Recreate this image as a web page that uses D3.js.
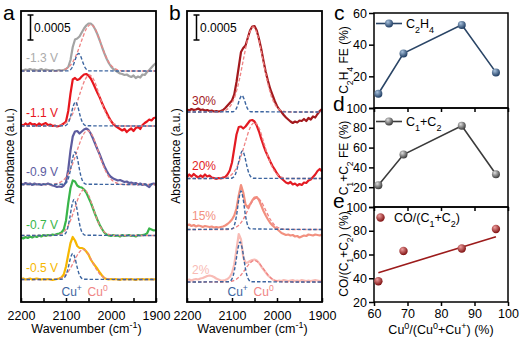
<!DOCTYPE html>
<html><head><meta charset="utf-8">
<script src="https://cdn.jsdelivr.net/npm/d3@7"></script>
<style>body{margin:0;background:#fff}svg text{font-family:"Liberation Sans",Arial,sans-serif}</style>
</head><body>
<svg id="chart" width="521" height="340"></svg>
<script>
// ---------------- DATA ----------------
// spectra sampled from 2200 down to 1900 cm-1, every 5 cm-1 (units of 1e-4 absorbance, relative to own baseline)
const gridStart = 2200, gridStep = 5;
const labelsA = ["-1.3 V", "-1.1 V", "-0.9 V", "-0.7 V", "-0.5 V"];
const offsetsA = [46.2, 35.2, 23.5, 13.3, 4.5];
const specA13 = [0.2,0.1,0.3,0.2,0.4,0.2,0.3,0.1,0.2,0.4,0.1,0.3,0.2,0.1,0.2,0.0,0.1,0.2,0.1,0.2,0.4,0.8,2.2,4.8,6.3,6.5,6.9,7.7,8.5,9.1,9.5,9.5,9.1,8.3,7.3,6.1,4.8,3.6,2.5,1.6,0.9,0.4,0.1,-0.2,-0.5,-0.6,-0.8,-0.7,-1.0,-1.2,-0.9,-1.4,-1.1,-1.3,-0.7,-0.8,-0.2,0.2,0.7,1.2,1.6];
const specA11 = [0.3,0.1,0.5,0.2,0.6,0.3,0.4,0.1,0.5,0.2,0.4,0.6,0.2,0.3,0.0,0.1,-0.1,0.0,0.2,0.5,0.9,3.0,6.5,9.3,9.6,9.2,9.4,9.9,10.3,10.4,10.1,9.5,8.6,7.6,6.6,5.7,4.6,3.6,2.7,1.8,1.0,0.4,0.0,-0.3,-0.6,-0.9,-0.6,-1.2,-0.8,-0.5,-1.0,-0.4,-0.2,-0.6,0.2,0.6,0.9,1.3,1.1,1.6,1.7];
const specA09 = [0.2,0.0,0.3,0.1,0.2,-0.1,0.2,0.0,0.1,-0.1,0.1,0.0,0.2,0.0,-0.2,-0.3,-0.5,-0.4,-0.5,-0.2,0.5,3.0,6.8,9.6,10.6,10.7,10.2,10.6,11.0,11.2,10.9,10.2,9.2,8.1,7.0,6.0,4.8,3.7,2.8,2.0,1.5,1.2,1.0,0.8,0.9,0.7,0.5,0.6,0.3,0.4,0.2,0.3,0.0,0.2,-0.1,0.1,-0.2,-0.5,0.1,0.2,-0.1];
const specA07 = [-0.4,-0.6,-0.3,-0.5,-0.2,-0.4,-0.1,-0.3,0.0,-0.2,0.1,-0.1,0.1,0.0,0.2,0.1,0.3,0.4,0.6,1.2,3.0,6.5,9.5,11.0,10.8,10.0,9.7,9.6,9.2,8.6,7.6,6.6,5.4,4.2,3.1,2.1,1.3,0.6,0.2,0.0,-0.1,0.1,-0.1,0.0,-0.2,0.1,-0.1,0.0,0.1,-0.1,0.0,-0.2,0.1,0.0,0.1,0.2,0.4,1.4,1.2,1.0,1.1];
const specA05 = [0.1,0.2,0.0,0.1,0.2,0.0,0.1,0.2,0.1,0.0,0.1,0.0,0.1,0.0,-0.1,0.0,0.1,0.2,0.4,1.0,2.6,5.0,7.3,8.5,7.8,6.7,6.3,6.3,6.1,5.6,5.0,4.0,3.3,2.7,2.1,1.4,0.8,0.3,0.1,0.0,0.1,0.0,0.1,0.0,-0.1,0.1,0.0,0.1,0.0,0.1,0.0,-0.1,0.1,0.0,0.1,0.0,0.1,0.0,0.1,0.0,0.1];

// Gaussian fit components: [wavenumber, value]
const cuPlusA13 = [[2200,0],[2097,0.03],[2092,0.15],[2087,0.6],[2082,1.6],[2077,2.88],[2072,3.5],[2067,2.88],[2062,1.6],[2057,0.6],[2052,0.15],[2047,0.03],[1900,0]];
const cuPlusA11 = [[2200,0],[2104,0.04],[2099,0.21],[2094,0.83],[2089,2.2],[2084,3.95],[2079,4.8],[2074,3.95],[2069,2.2],[2064,0.83],[2059,0.21],[2054,0.04],[1900,0]];
const cuPlusA09 = [[2200,0],[2105,0.05],[2100,0.29],[2095,1.12],[2090,2.98],[2085,5.35],[2080,6.5],[2075,5.35],[2070,2.98],[2065,1.12],[2060,0.29],[2055,0.05],[1900,0]];
const cuPlusA07 = [[2200,0],[2107,0.05],[2102,0.32],[2097,1.24],[2092,3.3],[2087,5.93],[2082,7.2],[2077,5.93],[2072,3.3],[2067,1.24],[2062,0.32],[2057,0.05],[1900,0]];
const cuPlusA05 = [[2200,0],[2110,0.04],[2105,0.23],[2100,0.89],[2095,2.38],[2090,4.28],[2085,5.2],[2080,4.28],[2075,2.38],[2070,0.89],[2065,0.23],[2060,0.04],[1900,0]];
const cu0A13 = [[2200,0],[2115,0],[2105,0.22],[2095,0.71],[2085,1.79],[2075,3.67],[2065,6.16],[2055,8.39],[2045,9.3],[2035,8.39],[2025,6.16],[2015,3.67],[2005,1.79],[1995,0.71],[1985,0.22],[1975,0],[1900,0]];
const cu0A11 = [[2200,0],[2118,0],[2108,0.24],[2098,0.78],[2088,1.96],[2078,4.03],[2068,6.75],[2058,9.2],[2048,10.2],[2038,9.2],[2028,6.75],[2018,4.03],[2008,1.96],[1998,0.78],[1988,0.24],[1978,0],[1900,0]];
const cu0A09 = [[2200,0],[2132,0],[2122,0.15],[2112,0.48],[2102,1.23],[2092,2.69],[2082,4.95],[2072,7.64],[2062,9.9],[2052,10.8],[2042,9.9],[2032,7.64],[2022,4.95],[2012,2.69],[2002,1.23],[1992,0.48],[1982,0.15],[1972,0],[1900,0]];
const cu0A07 = [[2200,0],[2130,0],[2120,0.1],[2110,0.4],[2100,1.24],[2090,2.99],[2080,5.58],[2070,8.11],[2060,9.2],[2050,8.11],[2040,5.58],[2030,2.99],[2020,1.24],[2010,0.4],[2000,0.1],[1990,0],[1900,0]];
const cu0A05 = [[2200,0],[2132,0],[2122,0.07],[2112,0.26],[2102,0.81],[2092,1.95],[2082,3.64],[2072,5.29],[2062,6.0],[2052,5.29],[2042,3.64],[2032,1.95],[2022,0.81],[2012,0.26],[2002,0.07],[1992,0],[1900,0]];

const labelsB = ["30%", "20%", "15%", "2%"];
const offsetsB = [38.0, 24.7, 14.5, 4.0];
const specB30 = [0.5,0.3,0.6,0.4,0.5,0.7,0.4,0.5,0.3,0.4,0.2,0.3,0.1,0.2,0.1,0.2,0.4,0.8,1.3,1.8,2.3,3.5,6.0,9.0,12.0,12.8,13.3,14.8,16.3,17.1,17.2,16.3,14.6,12.6,10.2,8.0,6.2,4.6,3.4,2.2,1.2,0.5,0.0,-0.6,-1.1,-1.5,-1.9,-2.2,-1.9,-2.1,-1.7,-1.8,-1.4,-1.8,-1.2,-1.5,-0.9,-1.1,-0.4,0.2,0.6];
const specB20 = [0.3,0.8,0.4,0.9,0.5,0.2,0.6,0.3,0.8,0.4,0.6,0.2,0.1,-0.1,0.1,0.0,0.2,0.3,0.8,1.6,3.2,6.0,8.8,10.3,10.4,10.0,10.4,11.0,11.6,11.7,11.4,10.6,9.4,7.9,6.6,5.4,4.4,3.4,2.5,1.8,1.0,0.4,0.0,-0.4,-0.8,-1.0,-0.7,-1.2,-1.0,-1.4,-1.1,-1.3,-0.8,-0.9,-0.4,-0.2,0.3,0.8,1.5,1.9,1.4];
const specB15 = [0.8,1.0,0.7,0.9,0.6,0.8,0.7,0.5,0.7,0.6,0.5,0.6,0.4,0.5,0.4,0.5,0.6,0.8,1.1,1.5,2.0,2.8,4.2,6.8,8.9,7.4,5.0,4.4,5.0,5.8,6.4,6.5,5.9,4.8,3.7,2.8,2.0,1.3,0.8,0.4,0.1,-0.3,-0.7,-0.9,-1.1,-1.0,-1.2,-1.1,-1.4,-1.3,-1.6,-1.4,-1.2,-1.3,-1.0,-1.1,-1.2,-1.0,-1.1,-1.2,-1.0];
const specB02 = [0.4,0.5,0.3,0.5,0.6,0.5,0.7,0.8,1.0,1.2,1.3,1.2,1.0,0.7,0.5,0.3,0.3,0.4,0.6,1.0,1.8,3.5,6.5,9.6,8.5,5.0,3.8,3.9,4.2,4.4,4.5,4.3,3.8,3.1,2.5,1.9,1.3,0.9,0.5,0.3,0.2,0.3,0.2,0.4,0.3,0.2,0.3,0.4,0.2,0.3,0.2,0.4,0.3,0.2,0.3,0.2,0.3,0.4,0.3,0.2,0.3];

const cuPlusB30 = [[2200,0],[2098,0.06],[2093,0.33],[2088,1.19],[2083,2.56],[2078,3.3],[2073,2.56],[2068,1.19],[2063,0.33],[2058,0.06],[1900,0]];
const cuPlusB20 = [[2200,0],[2102,0.04],[2097,0.24],[2092,0.95],[2087,2.52],[2082,4.53],[2077,5.5],[2072,4.53],[2067,2.52],[2062,0.95],[2057,0.24],[2052,0.04],[1900,0]];
const cuPlusB15 = [[2200,0],[2100,0.13],[2095,0.78],[2090,2.77],[2085,5.97],[2080,7.7],[2075,5.97],[2070,2.77],[2065,0.78],[2060,0.13],[1900,0]];
const cuPlusB02 = [[2200,0],[2107,0.06],[2102,0.35],[2097,1.38],[2092,3.66],[2087,6.58],[2082,8.0],[2077,6.58],[2072,3.66],[2067,1.38],[2062,0.35],[2057,0.06],[1900,0]];
const cu0B30 = [[2200,0],[2133,0],[2123,0.1],[2113,0.41],[2103,1.29],[2093,3.26],[2083,6.72],[2073,11.25],[2063,15.33],[2053,17.0],[2043,15.33],[2033,11.25],[2023,6.72],[2013,3.26],[2003,1.29],[1993,0.41],[1983,0.1],[1973,0],[1900,0]];
const cu0B20 = [[2200,0],[2120,0],[2110,0.27],[2100,0.85],[2090,2.15],[2080,4.42],[2070,7.41],[2060,10.1],[2050,11.2],[2040,10.1],[2030,7.41],[2020,4.42],[2010,2.15],[2000,0.85],[1990,0.27],[1980,0],[1900,0]];
const cu0B15 = [[2200,0],[2115,0],[2105,0.07],[2095,0.28],[2085,0.85],[2075,2.05],[2065,3.82],[2055,5.56],[2045,6.3],[2035,5.56],[2025,3.82],[2015,2.05],[2005,0.85],[1995,0.28],[1985,0.07],[1975,0],[1900,0]];
const cu0B02 = [[2200,0],[2120,0],[2110,0.05],[2100,0.19],[2090,0.58],[2080,1.4],[2070,2.61],[2060,3.79],[2050,4.3],[2040,3.79],[2030,2.61],[2020,1.4],[2010,0.58],[2000,0.19],[1990,0.05],[1980,0],[1900,0]];

const wnTicks = [2200, 2150, 2100, 2050, 2000, 1950, 1900];

// right-hand panels
const cuRatio = [61.3, 68.8, 86.2, 96.4];
const feC2H4 = [9, 34.5, 52.5, 22.5];
const feC1C2 = [22, 53, 82, 33];
const coRatio = [37.5, 63, 65, 81.5];
const fitX = [61.3, 96.4];
const fitY = [44.7, 75];
const ratioTicks = [60, 70, 80, 90, 100];

// ---------------- DRAW ----------------
const svg = d3.select("#chart");
const defs = svg.append("defs");
function ballGrad(id, light, dark) {
  const g = defs.append("radialGradient").attr("id", id).attr("cx", "40%").attr("cy", "35%").attr("r", "65%").attr("fx", "35%").attr("fy", "30%");
  g.append("stop").attr("offset", "0%").attr("stop-color", light);
  g.append("stop").attr("offset", "100%").attr("stop-color", dark);
}
ballGrad("gBlue", "#a9c3de", "#1f3d63");
ballGrad("gGray", "#e0e0e0", "#3a3a3a");
ballGrad("gRed", "#f0a0a0", "#7e1010");

function richText(sel, parts, size) {
  parts.forEach(([t, kind]) => {
    const ts = sel.append("tspan").text(t);
    if (kind === "sub") ts.attr("baseline-shift", "sub").attr("font-size", size * 0.72);
    if (kind === "sup") ts.attr("baseline-shift", "super").attr("font-size", size * 0.72);
    if (kind === "n") ts.attr("baseline-shift", "0");
  });
}

const yS = d3.scaleLinear().domain([0, 58.2]).range([302, 11]);
const BLUE = "#3c65a0", PINK = "#ef8484";

function specPanel(x0, x1, labels, offsets, specs, fitsP, fits0, colors, labelColors, labelPos, letter) {
  const x = d3.scaleLinear().domain([2200, 1900]).range([x0, x1]);
  const g = svg.append("g");
  const solid = d3.line().x(d => x(d[0])).y(d => yS(d[1]));
  const smooth = d3.line().x(d => x(d[0])).y(d => yS(d[1])).curve(d3.curveMonotoneX);
  specs.forEach((s, i) => {
    const pts = s.map((v, k) => [gridStart - k * gridStep, offsets[i] + v]);
    g.append("path").attr("d", solid(pts)).attr("fill", "none").attr("stroke", colors[i]).attr("stroke-width", 2.2).attr("stroke-linejoin", "round");
  });
  fits0.forEach((f, i) => {
    g.append("path").attr("d", smooth(f.map(d => [d[0], offsets[i] + d[1]]))).attr("fill", "none")
      .attr("stroke", PINK).attr("stroke-width", 1.3).attr("stroke-dasharray", "3.5,2");
  });
  fitsP.forEach((f, i) => {
    g.append("path").attr("d", smooth(f.map(d => [d[0], offsets[i] + d[1]]))).attr("fill", "none")
      .attr("stroke", BLUE).attr("stroke-width", 1.4).attr("stroke-dasharray", "3.5,2");
  });
  labels.forEach((l, i) => {
    g.append("text").attr("x", x0 + 5).attr("y", labelPos[i]).attr("font-size", 12).attr("fill", labelColors[i]).text(l);
  });
  // frame
  g.append("rect").attr("x", x0).attr("y", 11).attr("width", x1 - x0).attr("height", 291)
    .attr("fill", "none").attr("stroke", "#000").attr("stroke-width", 1.8);
  const ax = g.append("g").attr("transform", "translate(0,302)")
    .call(d3.axisBottom(x).tickValues(wnTicks).tickSize(-4).tickPadding(9).tickFormat(d => d % 100 === 0 ? d : ""));
  ax.select(".domain").remove();
  ax.selectAll("line").attr("stroke-width", 1.5);
  ax.selectAll("text").attr("font-size", 12.5).attr("fill", "#000").style("font-family", '"Liberation Sans",Arial,sans-serif');
  // scale bar
  const sbx = x0 + 9.5;
  const y1 = yS(52.4), y2 = yS(57.4);
  g.append("line").attr("x1", sbx).attr("x2", sbx).attr("y1", y1).attr("y2", y2).attr("stroke", "#000").attr("stroke-width", 1.5);
  [y1, y2].forEach(yy => g.append("line").attr("x1", sbx - 3).attr("x2", sbx + 3).attr("y1", yy).attr("y2", yy).attr("stroke", "#000").attr("stroke-width", 1.5));
  g.append("text").attr("x", sbx + 3.5).attr("y", (y1 + y2) / 2 + 4.5).attr("font-size", 12).text("0.0005");
  // Cu+ / Cu0 labels
  const cl = g.append("text").attr("x", x(2110)).attr("y", 295.5).attr("font-size", 12).attr("fill", BLUE);
  richText(cl, [["Cu", ""], ["+", "sup"]], 12);
  const c0 = g.append("text").attr("x", x(2052)).attr("y", 295.5).attr("font-size", 12).attr("fill", PINK);
  richText(c0, [["Cu", ""], ["0", "sup"]], 12);
  // axis titles
  g.append("text").attr("transform", `translate(${x0 - 7},156) rotate(-90)`).attr("text-anchor", "middle").attr("font-size", 12).text("Absorbance (a.u.)");
  const xt = g.append("text").attr("x", (x0 + x1) / 2 - 2).attr("y", 333).attr("text-anchor", "middle").attr("font-size", 12.5);
  richText(xt, [["Wavenumber (cm", ""], ["-1", "sup"], [")", "n"]], 12.5);
  svg.append("text").attr("x", x0 - 18).attr("y", 20).attr("font-size", 21).text(letter);
}

specPanel(21, 156, labelsA, offsetsA, [specA13, specA11, specA09, specA07, specA05],
  [cuPlusA13, cuPlusA11, cuPlusA09, cuPlusA07, cuPlusA05], [cu0A13, cu0A11, cu0A09, cu0A07, cu0A05],
  ["#a3a3a3", "#e8161d", "#5d5c9f", "#39b54a", "#f6b700"], ["#ababab", "#e8161d", "#5d5c9f", "#39b54a", "#f6b700"],
  [61.5, 117, 176, 229, 272], "a");
specPanel(187, 322, labelsB, offsetsB, [specB30, specB20, specB15, specB02],
  [cuPlusB30, cuPlusB20, cuPlusB15, cuPlusB02], [cu0B30, cu0B20, cu0B15, cu0B02],
  ["#a3191d", "#e31b23", "#f2907f", "#f8bbb5"], ["#a3191d", "#e31b23", "#f2907f", "#f8bbb5"],
  [105, 170, 220, 274], "b");

// ---- right panels ----
const xR = d3.scaleLinear().domain([60, 100]).range([374, 508]);
function sidePanel(top, bottom, ydom, yticks, showLabel0, showX) {
  const y = d3.scaleLinear().domain(ydom).range([bottom, top]);
  const g = svg.append("g");
  g.append("rect").attr("x", 374).attr("y", top).attr("width", 134).attr("height", bottom - top)
    .attr("fill", "none").attr("stroke", "#000").attr("stroke-width", 1.5);
  const ay = g.append("g").attr("transform", "translate(374,0)")
    .call(d3.axisLeft(y).tickValues(yticks).tickSize(5).tickPadding(2).tickFormat(d => (d === ydom[0] && !showLabel0) ? "" : d));
  ay.select(".domain").remove();
  ay.selectAll("line").attr("stroke-width", 1.5);
  ay.selectAll("text").attr("font-size", 12.5).attr("fill", "#000").style("font-family", '"Liberation Sans",Arial,sans-serif');
  const axx = g.append("g").attr("transform", `translate(0,${bottom})`)
    .call(d3.axisBottom(xR).tickValues(ratioTicks).tickSize(4).tickPadding(3).tickFormat(showX ? d => d : ""));
  axx.select(".domain").remove();
  axx.selectAll("line").attr("stroke-width", 1.5);
  axx.selectAll("text").attr("font-size", 12.5).attr("fill", "#000").style("font-family", '"Liberation Sans",Arial,sans-serif');
  return { g, y };
}

// c
{
  const { g, y } = sidePanel(13, 108, [0, 60], [0, 20, 40, 60], false, false);
  const pts = cuRatio.map((c, i) => [xR(c), y(feC2H4[i])]);
  g.append("path").attr("d", d3.line()(pts)).attr("fill", "none").attr("stroke", "#2a4566").attr("stroke-width", 1.6);
  pts.forEach(p => g.append("circle").attr("cx", p[0]).attr("cy", p[1]).attr("r", 4).attr("fill", "url(#gBlue)"));
  g.append("line").attr("x1", 376).attr("x2", 402).attr("y1", 23.5).attr("y2", 23.5).attr("stroke", "#2a4566").attr("stroke-width", 1.6);
  g.append("circle").attr("cx", 389).attr("cy", 23.5).attr("r", 4).attr("fill", "url(#gBlue)");
  const t = g.append("text").attr("x", 406).attr("y", 28).attr("font-size", 12.5);
  richText(t, [["C", ""], ["2", "sub"], ["H", "n"], ["4", "sub"]], 12.5);
  const yl = g.append("text").attr("transform", "translate(348,60) rotate(-90)").attr("text-anchor", "middle").attr("font-size", 12);
  richText(yl, [["C", ""], ["2", "sub"], ["H", "n"], ["4", "sub"], [" FE (%)", "n"]], 12);
  svg.append("text").attr("x", 334).attr("y", 20).attr("font-size", 21).text("c");
}
// d
{
  const { g, y } = sidePanel(108, 207, [0, 100], [0, 20, 40, 60, 80, 100], false, false);
  const pts = cuRatio.map((c, i) => [xR(c), y(feC1C2[i])]);
  g.append("path").attr("d", d3.line()(pts)).attr("fill", "none").attr("stroke", "#3b3b3b").attr("stroke-width", 1.6);
  pts.forEach(p => g.append("circle").attr("cx", p[0]).attr("cy", p[1]).attr("r", 4).attr("fill", "url(#gGray)"));
  g.append("line").attr("x1", 376).attr("x2", 402).attr("y1", 121.5).attr("y2", 121.5).attr("stroke", "#3b3b3b").attr("stroke-width", 1.6);
  g.append("circle").attr("cx", 389).attr("cy", 121.5).attr("r", 4).attr("fill", "url(#gGray)");
  const t = g.append("text").attr("x", 406).attr("y", 126).attr("font-size", 12.5);
  richText(t, [["C", ""], ["1", "sub"], ["+C", "n"], ["2", "sub"]], 12.5);
  const yl = g.append("text").attr("transform", "translate(348,158) rotate(-90)").attr("text-anchor", "middle").attr("font-size", 12);
  richText(yl, [["C", ""], ["1", "sub"], ["+C", "n"], ["2", "sub"], [" FE (%)", "n"]], 12);
  svg.append("text").attr("x", 333).attr("y", 111).attr("font-size", 21).text("d");
}
// e
{
  const { g, y } = sidePanel(207, 302, [20, 100], [20, 40, 60, 80, 100], true, true);
  g.append("line").attr("x1", xR(fitX[0])).attr("x2", xR(fitX[1])).attr("y1", y(fitY[0])).attr("y2", y(fitY[1]))
    .attr("stroke", "#9c1b1b").attr("stroke-width", 1.6);
  cuRatio.forEach((c, i) => g.append("circle").attr("cx", xR(c)).attr("cy", y(coRatio[i])).attr("r", 4.2).attr("fill", "url(#gRed)"));
  g.append("circle").attr("cx", 380.5).attr("cy", 217.5).attr("r", 4.2).attr("fill", "url(#gRed)");
  const t = g.append("text").attr("x", 394).attr("y", 222).attr("font-size", 12.5);
  richText(t, [["CO/(C", ""], ["1", "sub"], ["+C", "n"], ["2", "sub"], [")", "n"]], 12.5);
  const yl = g.append("text").attr("transform", "translate(348,254) rotate(-90)").attr("text-anchor", "middle").attr("font-size", 12);
  richText(yl, [["CO/(C", ""], ["1", "sub"], ["+C", "n"], ["2", "sub"], [") (%)", "n"]], 12);
  svg.append("text").attr("x", 333).attr("y", 208).attr("font-size", 21).text("e");
  const xl = g.append("text").attr("x", 441).attr("y", 334).attr("text-anchor", "middle").attr("font-size", 12.5);
  richText(xl, [["Cu", ""], ["0", "sup"], ["/(Cu", "n"], ["0", "sup"], ["+Cu", "n"], ["+", "sup"], [") (%)", "n"]], 12.5);
}
</script>
</body></html>
